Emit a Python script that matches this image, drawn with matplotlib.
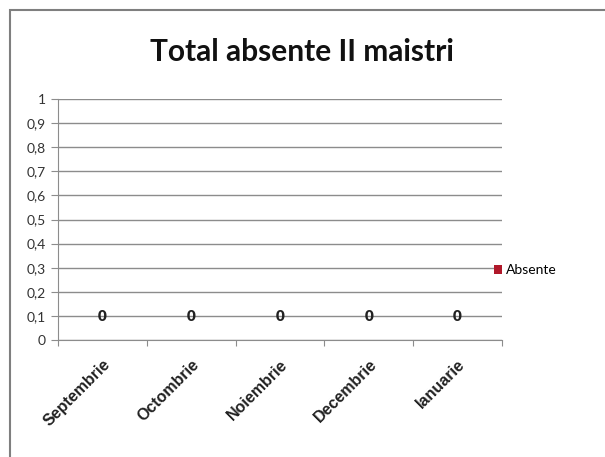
import matplotlib.pyplot as plt
from matplotlib.patches import Rectangle
import numpy as np

plt.rcParams['font.family'] = ['Lato', 'DejaVu Sans']

months = ["Septembrie", "Octombrie", "Noiembrie", "Decembrie", "Ianuarie"]
absente = [0, 0, 0, 0, 0]
yticks = [0, 0.1, 0.2, 0.3, 0.4, 0.5, 0.6, 0.7, 0.8, 0.9, 1]
ytick_labels = ["0", "0,1", "0,2", "0,3", "0,4", "0,5", "0,6", "0,7", "0,8", "0,9", "1"]

bar_color = '#b0182a'
grid_color = '#8c8c8c'

fig = plt.figure(figsize=(6.05, 4.57), dpi=100)
ax = fig.add_axes([58 / 605, 1 - 340 / 457, 444 / 605, 241 / 457])

# chart frame
fig.patches.append(Rectangle((10 / 605, -0.05), 1.0, (457 - 10) / 457 + 0.05,
                             transform=fig.transFigure, fill=False,
                             edgecolor='#7f7f7f', linewidth=1.5))

x = np.arange(len(months))
bars = ax.bar(x, absente, width=0.6, color=bar_color, label='Absente')

for xi, v in zip(x, absente):
    ax.annotate(str(v), (xi, v), xytext=(0, 17), textcoords='offset points',
                ha='center', va='center', fontsize=11, fontweight='heavy',
                color='#222222')

ax.set_ylim(0, 1)
ax.set_xlim(-0.5, len(months) - 0.5)
ax.set_yticks(yticks)
ax.set_yticklabels(ytick_labels, fontsize=10, color='#333333')
ax.yaxis.grid(True, color=grid_color, linewidth=1)
ax.set_axisbelow(True)

# ticks between categories, labels at centres
ax.set_xticks(np.arange(len(months) + 1) - 0.5)
ax.set_xticklabels([])
ax.set_xticks(x, minor=True)
ax.set_xticklabels(months, minor=True, rotation=45, ha='right',
                   rotation_mode='anchor', fontsize=11.5, fontweight='bold',
                   family=['Liberation Sans', 'DejaVu Sans'], color='#222222')
ax.tick_params(axis='x', which='minor', length=0, pad=12)
ax.tick_params(axis='x', which='major', length=4, color=grid_color)
ax.tick_params(axis='y', length=5, color=grid_color, pad=4)

for s in ['top', 'right']:
    ax.spines[s].set_visible(False)
ax.spines['left'].set_color(grid_color)
ax.spines['bottom'].set_color(grid_color)

fig.text(302 / 605, 1 - 52 / 457, "Total absente II maistri", ha='center',
         va='center', fontsize=21.5, fontweight='bold', color='#111111')

ax.legend(loc='center left', bbox_to_anchor=(481 / 605, 1 - 270 / 457),
          bbox_transform=fig.transFigure, frameon=False, fontsize=10,
          handlelength=0.6, handleheight=0.6, handletextpad=0.3)

fig.savefig('out.png', dpi=100)
